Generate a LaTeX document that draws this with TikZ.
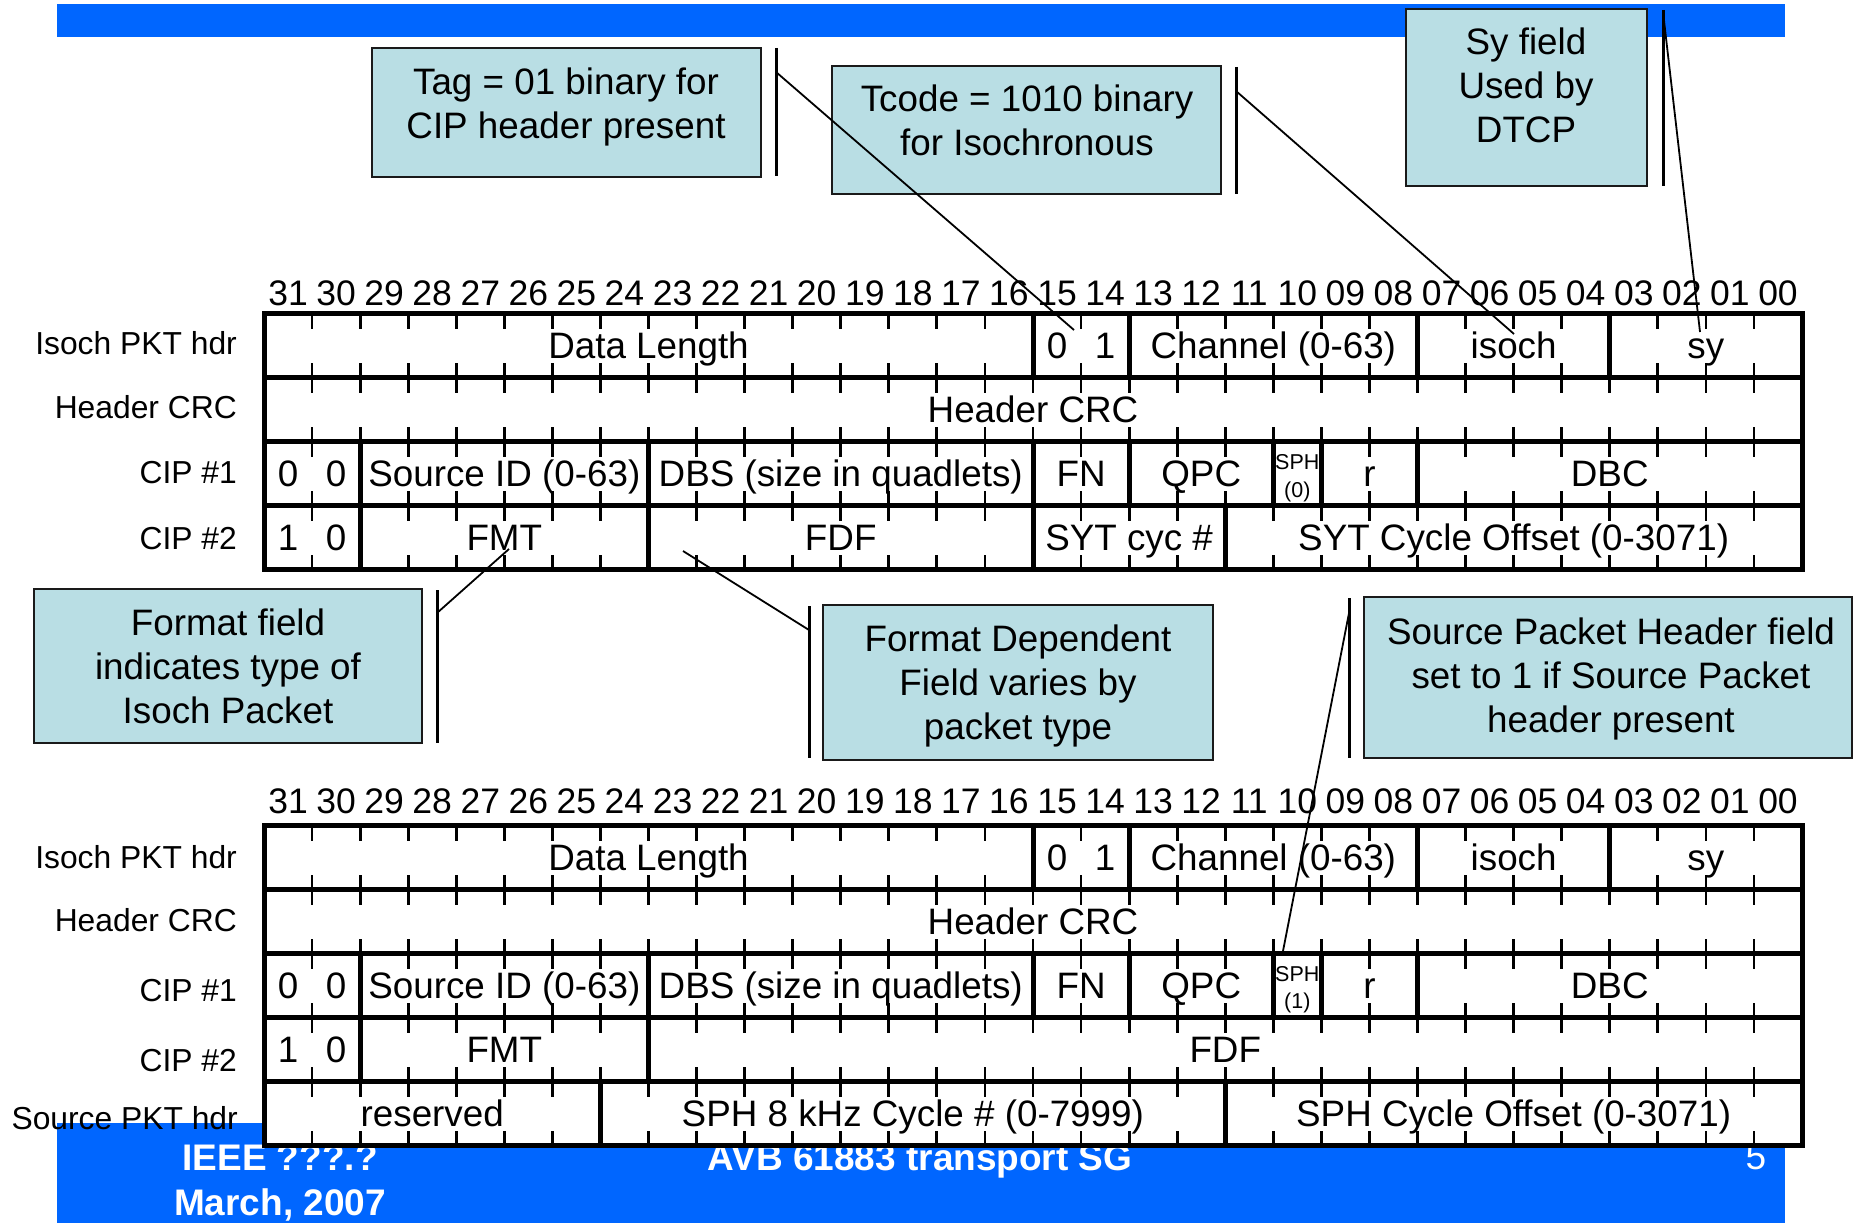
\documentclass[tikz,border=0pt]{standalone}
\usepackage{fontspec}
\setmainfont{Liberation Sans}
\definecolor{barblue}{HTML}{0066FF}
\definecolor{callfill}{HTML}{B9DEE4}
\definecolor{callline}{HTML}{1A1A1A}
\newcommand{\cellfont}{\fontsize{36.8}{44}\selectfont}
\newcommand{\numfont}{\fontsize{35.5}{40}\selectfont}
\newcommand{\lblfont}{\fontsize{31.8}{37}\selectfont}
\newcommand{\smfont}{\fontsize{21.5}{24}\selectfont}
\newcommand{\footfont}{\fontsize{37}{45}\selectfont\bfseries}
\newcommand{\cstrut}{\rule[-8pt]{0pt}{41.8pt}}
\newcommand{\fieldtxt}[5]{\node[celltext] (#1) at ({264+(#2+#3)*24.03125},{#4+45}) {#5};}
\begin{document}
\begin{tikzpicture}[x=1pt,y=-1pt,
  bittick/.style={line width=2.8pt},
  frameline/.style={line width=5pt,line cap=rect,line join=miter},
  celltext/.style={font=\cellfont,inner sep=0pt,anchor=base},
  numtext/.style={font=\numfont,inner sep=0pt,anchor=base},
  lbltext/.style={font=\lblfont,inner sep=0pt,anchor=base east},
  smtext/.style={font=\smfont,inner sep=0pt,anchor=base},
  callbox/.style={draw=callline,line width=2.5pt,fill=callfill,inner sep=0pt,outer sep=0pt},
  calltext/.style={font=\cellfont,inner sep=0pt,align=center},
  callbar/.style={line width=3pt},
  connector/.style={line width=1.8pt},
  foottext/.style={font=\footfont,text=white,inner sep=0pt,anchor=base},
]
\useasboundingbox (0,0) rectangle (1854,1223);
% slide bars
\fill[barblue] (57,4) rectangle (1785,37);
\fill[barblue] (57,1123) rectangle (1785,1223);
\node[foottext] (ftieee) at (280,1170) {IEEE ???.?};
\node[foottext] (ftdate) at (280,1215) {March, 2007};
\node[foottext] (fttitle) at (920,1170) {AVB 61883 transport SG};
\node[font=\fontsize{37}{45}\selectfont,text=white,inner sep=0pt,anchor=base] (ftpage) at (1756,1169) {5};

% ---------- top table ----------
\fill[white] (264,313.5) rectangle (1802,569.5);
\foreach \yt in {313.5,377.5,441.5,505.5} {
  \foreach \c in {1,...,31} {
    \draw[bittick] ({264+\c*48.0625},\yt) -- ++(0,15);
    \draw[bittick] ({264+\c*48.0625},{\yt+64}) -- ++(0,-15);
  }
}
\draw[frameline] (264,313.5) rectangle (1802,569.5);
\foreach \y in {377.5,441.5,505.5} \draw[frameline] (264,\y) -- (1802,\y);
\foreach \c in {16,18,24,28} \draw[frameline] ({264+\c*48.0625},313.5) -- ++(0,64);
\foreach \c in {2,8,16,18,21,22,24} \draw[frameline] ({264+\c*48.0625},441.5) -- ++(0,64);
\foreach \c in {2,8,16,20} \draw[frameline] ({264+\c*48.0625},505.5) -- ++(0,64);
\foreach \c [evaluate=\c as \b using {int(31-\c)}] in {0,...,31}
  \node[numtext] (tn\c) at ({264+(\c+0.5)*48.0625},305) {\ifnum\b<10 0\fi\b};
\fieldtxt{tdl}{0}{16}{313.5}{Data Length}
\fieldtxt{ttaga}{16}{17}{313.5}{0}
\fieldtxt{ttagb}{17}{18}{313.5}{1}
\fieldtxt{tch}{18}{24}{313.5}{Channel (0-63)}
\fieldtxt{tiso}{24}{28}{313.5}{isoch}
\fieldtxt{tsy}{28}{32}{313.5}{sy}
\fieldtxt{tcrc}{0}{32}{377.5}{Header CRC}
\fieldtxt{tca}{0}{1}{441.5}{0}
\fieldtxt{tcb}{1}{2}{441.5}{0}
\fieldtxt{tsid}{2}{8}{441.5}{Source ID (0-63)}
\fieldtxt{tdbs}{8}{16}{441.5}{DBS (size in quadlets)}
\fieldtxt{tfn}{16}{18}{441.5}{FN}
\fieldtxt{tqpc}{18}{21}{441.5}{QPC}
\fieldtxt{tr}{22}{24}{441.5}{r}
\fieldtxt{tdbc}{24}{32}{441.5}{DBC}
\node[smtext] (tspha) at (1297.3,469) {SPH};
\node[smtext] (tsphb) at (1297.3,497) {(0)};
\fieldtxt{tda}{0}{1}{505.5}{1}
\fieldtxt{tdb}{1}{2}{505.5}{0}
\fieldtxt{tfmt}{2}{8}{505.5}{FMT}
\fieldtxt{tfdf}{8}{16}{505.5}{FDF}
\fieldtxt{tsytc}{16}{20}{505.5}{SYT cyc \#}
\fieldtxt{tsyto}{20}{32}{505.5}{SYT Cycle Offset (0-3071)}
\node[lbltext] (tl1) at (237,354) {Isoch PKT hdr};
\node[lbltext] (tl2) at (237,418) {Header CRC};
\node[lbltext] (tl3) at (237,483) {CIP \#1};
\node[lbltext] (tl4) at (237,549) {CIP \#2};

% ---------- lower table ----------
\fill[white] (264,825.5) rectangle (1802,1145.5);
\foreach \yt in {825.5,889.5,953.5,1017.5,1081.5} {
  \foreach \c in {1,...,31} {
    \draw[bittick] ({264+\c*48.0625},\yt) -- ++(0,15);
    \draw[bittick] ({264+\c*48.0625},{\yt+64}) -- ++(0,-15);
  }
}
\draw[frameline] (264,825.5) rectangle (1802,1145.5);
\foreach \y in {889.5,953.5,1017.5,1081.5} \draw[frameline] (264,\y) -- (1802,\y);
\foreach \c in {16,18,24,28} \draw[frameline] ({264+\c*48.0625},825.5) -- ++(0,64);
\foreach \c in {2,8,16,18,21,22,24} \draw[frameline] ({264+\c*48.0625},953.5) -- ++(0,64);
\foreach \c in {2,8} \draw[frameline] ({264+\c*48.0625},1017.5) -- ++(0,64);
\foreach \c in {7,20} \draw[frameline] ({264+\c*48.0625},1081.5) -- ++(0,64);
\foreach \c [evaluate=\c as \b using {int(31-\c)}] in {0,...,31}
  \node[numtext] (bn\c) at ({264+(\c+0.5)*48.0625},813) {\ifnum\b<10 0\fi\b};
\fieldtxt{bdl}{0}{16}{825.5}{Data Length}
\fieldtxt{btaga}{16}{17}{825.5}{0}
\fieldtxt{btagb}{17}{18}{825.5}{1}
\fieldtxt{bch}{18}{24}{825.5}{Channel (0-63)}
\fieldtxt{biso}{24}{28}{825.5}{isoch}
\fieldtxt{bsy}{28}{32}{825.5}{sy}
\fieldtxt{bcrc}{0}{32}{889.5}{Header CRC}
\fieldtxt{bca}{0}{1}{953.5}{0}
\fieldtxt{bcb}{1}{2}{953.5}{0}
\fieldtxt{bsid}{2}{8}{953.5}{Source ID (0-63)}
\fieldtxt{bdbs}{8}{16}{953.5}{DBS (size in quadlets)}
\fieldtxt{bfn}{16}{18}{953.5}{FN}
\fieldtxt{bqpc}{18}{21}{953.5}{QPC}
\fieldtxt{br}{22}{24}{953.5}{r}
\fieldtxt{bdbc}{24}{32}{953.5}{DBC}
\node[smtext] (bspha) at (1297.3,981) {SPH};
\node[smtext] (bsphb) at (1297.3,1008) {(1)};
\fieldtxt{bda}{0}{1}{1017.5}{1}
\fieldtxt{bdb}{1}{2}{1017.5}{0}
\fieldtxt{bfmt}{2}{8}{1017.5}{FMT}
\fieldtxt{bfdf}{8}{32}{1017.5}{FDF}
\fieldtxt{bres}{0}{7}{1081.5}{reserved}
\fieldtxt{bcyc}{7}{20}{1081.5}{SPH 8 kHz Cycle \# (0-7999)}
\fieldtxt{boff}{20}{32}{1081.5}{SPH Cycle Offset (0-3071)}
\node[lbltext] (bl1) at (237,868) {Isoch PKT hdr};
\node[lbltext] (bl2) at (237,931) {Header CRC};
\node[lbltext] (bl3) at (237,1001) {CIP \#1};
\node[lbltext] (bl4) at (237,1071) {CIP \#2};
\node[lbltext] (bl5) at (238,1129) {Source PKT hdr};

% ---------- callouts ----------
\node[callbox,minimum width=389pt,minimum height=129pt] (tagbox) at (566.5,112.5) {};
\node[calltext] (tagtext) at (566,104) {\cstrut Tag = 01 binary for\\\cstrut CIP header present};
\node[callbox,minimum width=389pt,minimum height=128pt] (tcodebox) at (1026.5,130) {};
\node[calltext] (tcodetext) at (1027,120.5) {\cstrut Tcode = 1010 binary\\\cstrut for Isochronous};
\node[callbox,minimum width=241pt,minimum height=177pt] (sybox) at (1526.5,97.5) {};
\node[calltext] (sytext) at (1526,86) {\cstrut Sy field\\\cstrut Used by\\\cstrut DTCP};
\node[callbox,minimum width=388pt,minimum height=154pt] (fmtbox) at (228,666) {};
\node[calltext] (fmttext) at (228,666.5) {\cstrut Format field\\\cstrut indicates type of\\\cstrut Isoch Packet};
\node[callbox,minimum width=390pt,minimum height=155pt] (fdfbox) at (1018,682.5) {};
\node[calltext] (fdftext) at (1018,683) {\cstrut Format Dependent\\\cstrut Field varies by\\\cstrut packet type};
\node[callbox,minimum width=488pt,minimum height=161pt] (sphbox) at (1608,677.5) {};
\node[calltext] (sphtext) at (1611,676) {\cstrut Source Packet Header field\\\cstrut set to 1 if Source Packet\\\cstrut header present};

% bars beside callouts
\coordinate (tagbart) at (776,48);  \coordinate (tagbarb) at (776,176);
\coordinate (tcbart) at (1236,67);  \coordinate (tcbarb) at (1236,194);
\coordinate (sybart) at (1663,10);  \coordinate (sybarb) at (1663,186);
\coordinate (fmbart) at (437,590);  \coordinate (fmbarb) at (437,743);
\coordinate (fdbart) at (809,606);  \coordinate (fdbarb) at (809,758);
\coordinate (spbart) at (1349,598); \coordinate (spbarb) at (1349,758);
\draw[callbar] (tagbart) -- (tagbarb);
\draw[callbar] (tcbart) -- (tcbarb);
\draw[callbar] (sybart) -- (sybarb);
\draw[callbar] (fmbart) -- (fmbarb);
\draw[callbar] (fdbart) -- (fdbarb);
\draw[callbar] (spbart) -- (spbarb);

% connectors
\coordinate (tagfrom) at (776,72);   \coordinate (tagto) at (1074,330);
\coordinate (tcfrom) at (1236,91);   \coordinate (tcto) at (1514,334);
\coordinate (syfrom) at (1663,12);   \coordinate (syto) at (1700,332);
\coordinate (fmfrom) at (437,613);   \coordinate (fmto) at (509,549);
\coordinate (fdfrom) at (809,630);   \coordinate (fdto) at (683,551);
\coordinate (spfrom) at (1349,613);  \coordinate (spto) at (1283,951);
\draw[connector] (tagfrom) -- (tagto);
\draw[connector] (tcfrom) -- (tcto);
\draw[connector] (syfrom) -- (syto);
\draw[connector] (fmfrom) -- (fmto);
\draw[connector] (fdfrom) -- (fdto);
\draw[connector] (spfrom) -- (spto);
\end{tikzpicture}
\end{document}
